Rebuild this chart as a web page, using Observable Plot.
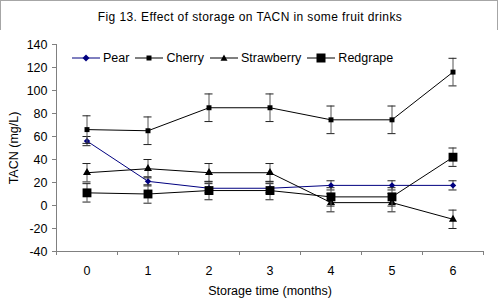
<!DOCTYPE html>
<html><head><meta charset="utf-8">
<script src="https://cdn.jsdelivr.net/npm/d3@7"></script>
<script src="https://cdn.jsdelivr.net/npm/@observablehq/plot@0.6"></script>
<style>
body{margin:0;background:#fff;}
#wrap{position:relative;width:500px;height:305px;font-family:"Liberation Sans",Arial,sans-serif;background:#fff;overflow:hidden;}
#frame{position:absolute;left:0;top:0;width:496px;height:301px;border:1px solid #a6a6a6;}
#title{position:absolute;left:0;top:10px;width:500px;text-align:center;font-size:12px;letter-spacing:0.4px;color:#000;}
#plot{position:absolute;left:0;top:30px;}
#legend{position:absolute;left:72px;top:51px;display:flex;align-items:center;font-size:12.5px;color:#000;white-space:nowrap;}
#legend .it{display:flex;align-items:center;margin-right:6px;}
#legend svg{margin-right:3px;}
</style></head>
<body>
<div id="wrap">
<div id="frame"></div>
<div id="title">Fig 13. Effect of storage on TACN in some fruit drinks</div>
<div id="plot"></div>
<div id="legend"></div>
</div>
<script>
const months = [0, 1, 2, 3, 4, 5, 6];
const seriesNames = ["Pear", "Cherry", "Strawberry", "Redgrape"];
const pear = [56, 21, 15, 15, 17.5, 17.5, 17.5];
const pearErr = [4, 4, 4, 4, 4, 4, 4];
const cherry = [66, 65, 85, 85, 74.5, 74.5, 116];
const cherryErr = [12, 12, 12, 12, 12, 12, 12];
const strawberry = [28.5, 32, 28.5, 28.5, 2.5, 2.5, -12];
const strawberryErr = [8, 8, 8, 8, 8, 8, 8];
const redgrape = [11, 10, 13, 13, 7.5, 7.5, 42];
const redgrapeErr = [8, 8, 8, 8, 8, 8, 8];
const yTicks = [-40, -20, 0, 20, 40, 60, 80, 100, 120, 140];

const styles = {
  Pear: {color: "#000080", symbol: "diamond2", r: 2.9},
  Cherry: {color: "#000", symbol: "square", r: 2.8},
  Strawberry: {color: "#000", symbol: "triangle", r: 3.0},
  Redgrape: {color: "#000", symbol: "square", r: 5.0}
};
const values = {Pear: pear, Cherry: cherry, Strawberry: strawberry, Redgrape: redgrape};
const errs = {Pear: pearErr, Cherry: cherryErr, Strawberry: strawberryErr, Redgrape: redgrapeErr};

const boundaries = [...months.map(m => m - 0.5), months[months.length - 1] + 0.5];
const capHalf = 0.066;

const marks = [];
for (const name of seriesNames) {
  const data = months.map((m, i) => ({x: m, y: values[name][i], e: errs[name][i]}));
  const st = styles[name];
  marks.push(Plot.ruleX(data, {x: "x", y1: d => d.y - d.e, y2: d => d.y + d.e, stroke: "#555", strokeWidth: 1}));
  marks.push(Plot.ruleY(data, {y: d => d.y + d.e, x1: d => d.x - capHalf, x2: d => d.x + capHalf, stroke: "#222", strokeWidth: 1}));
  marks.push(Plot.ruleY(data, {y: d => d.y - d.e, x1: d => d.x - capHalf, x2: d => d.x + capHalf, stroke: "#222", strokeWidth: 1}));
  marks.push(Plot.line(data, {x: "x", y: "y", stroke: st.color, strokeWidth: 1}));
  marks.push(Plot.dot(data, {x: "x", y: "y", symbol: st.symbol, r: st.r, fill: st.color, stroke: "none"}));
}

const chart = Plot.plot({
  width: 500,
  height: 275,
  marginTop: 14,
  marginBottom: 54,
  marginLeft: 56,
  marginRight: 17,
  style: {fontFamily: "'Liberation Sans', Arial, sans-serif", fontSize: "12.5px", color: "#000", background: "#fff"},
  x: {domain: [-0.5, 6.5]},
  y: {domain: [-40, 140]},
  marks: [
    Plot.axisY(yTicks, {tickSize: 4, tickPadding: 5, stroke: "#808080", fill: "#000", fontSize: 12.5,
      tickFormat: d => String(d),
      label: "TACN (mg/L)", labelAnchor: "center", labelArrow: "none", labelOffset: 47}),
    Plot.axisX(months, {tickSize: 0, tickPadding: 15, fill: "#000", fontSize: 12.5,
      tickFormat: d => String(d),
      label: "Storage time (months)", labelAnchor: "center", labelArrow: "none", labelOffset: 43}),
    Plot.axisX(boundaries, {tickSize: 4, stroke: "#808080", tickFormat: () => "", label: null}),
    Plot.ruleY([-40], {stroke: "#808080"}),
    Plot.ruleX([-0.5], {stroke: "#808080"}),
    ...marks
  ]
});
document.getElementById("plot").appendChild(chart);

// legend
const legend = document.getElementById("legend");
const symPaths = {
  Pear: "M14,2.5 L17.5,6 L14,9.5 L10.5,6 Z",
  Cherry: "M11.5,3.5 H16.5 V8.5 H11.5 Z",
  Strawberry: "M14,2.5 L17.5,8.8 L10.5,8.8 Z",
  Redgrape: "M9.5,1.5 H18.5 V10.5 H9.5 Z"
};
for (const name of seriesNames) {
  const st = styles[name];
  const it = document.createElement("div");
  it.className = "it";
  it.innerHTML = `<svg width="28" height="12"><line x1="0" x2="28" y1="6" y2="6" stroke="${st.color}" stroke-width="1"/><path d="${symPaths[name]}" fill="${st.color}"/></svg><span>${name}</span>`;
  legend.appendChild(it);
}
</script>
</body></html>
